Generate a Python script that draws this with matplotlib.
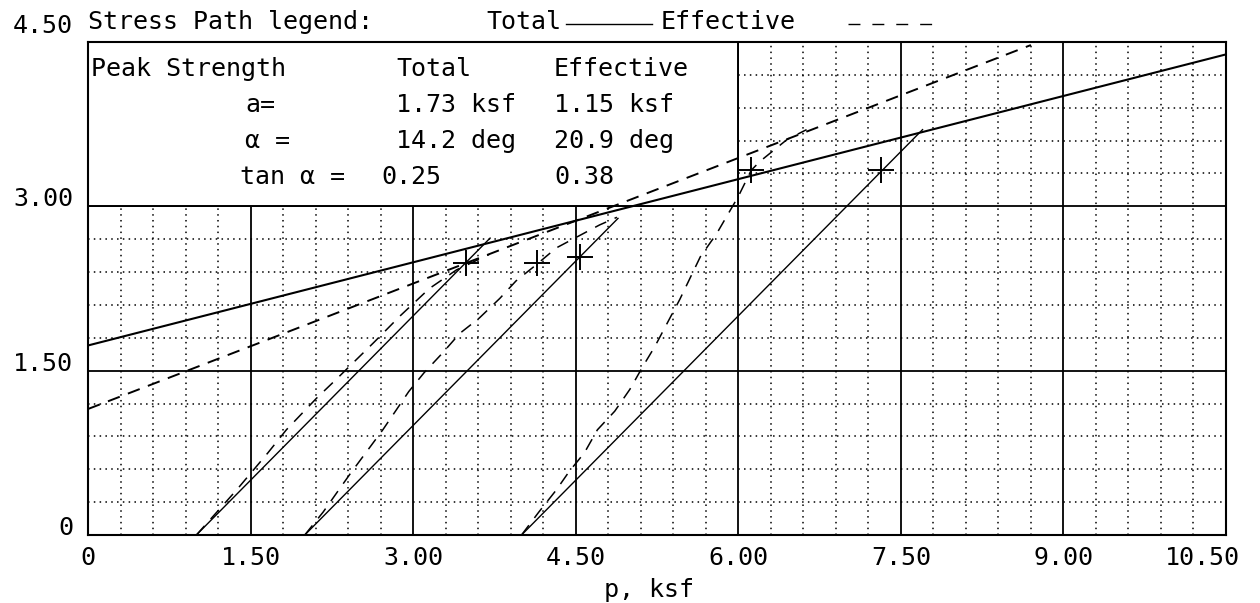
import numpy as np
import matplotlib
matplotlib.use("Agg")
import matplotlib.pyplot as plt
from matplotlib.patches import Rectangle
from matplotlib.lines import Line2D

# ── Failure envelopes (peak strength) ─────────────────────────────────
a_total, alpha_total, tan_total = 1.73, 14.2, 0.25
a_eff, alpha_eff, tan_eff = 1.15, 20.9, 0.38

env_total_p = np.array([0.0, 10.5])
env_eff_p = np.array([0.0, 8.7])

# ── Stress paths, p vs q (ksf) ────────────────────────────────────────
# test 1, p0 = 1.0
t1_total_p = [1.0, 3.71]
t1_total_q = [0.0, 2.71]
t1_eff_p = [1.0, 1.37, 1.66, 1.83, 2.11, 2.30, 2.64, 2.88, 3.15, 3.40, 3.70]
t1_eff_q = [0.0, 0.41, 0.75, 0.96, 1.25, 1.43, 1.76, 2.00, 2.25, 2.42, 2.56]

# test 2, p0 = 2.0
t2_total_p = [2.0, 4.89]
t2_total_q = [0.0, 2.89]
t2_eff_p = [2.0, 2.17, 2.42, 2.72, 2.96, 3.10, 3.27, 3.43, 3.61, 3.80,
            3.95, 4.14, 4.32, 4.72, 4.88]
t2_eff_q = [0.0, 0.21, 0.56, 0.96, 1.31, 1.48, 1.66, 1.84, 1.98, 2.16,
            2.32, 2.47, 2.62, 2.83, 2.90]

# test 3, p0 = 4.0
t3_total_p = [4.0, 7.70]
t3_total_q = [0.0, 3.70]
t3_eff_p = [4.0, 4.16, 4.32, 4.44, 4.58, 4.70, 4.86, 5.00, 5.12, 5.23,
            5.46, 5.65, 5.80, 6.00, 6.12, 6.20, 6.45, 6.63]
t3_eff_q = [0.0, 0.21, 0.41, 0.58, 0.75, 0.96, 1.13, 1.33, 1.54, 1.72,
            2.15, 2.54, 2.75, 3.09, 3.33, 3.41, 3.61, 3.70]

# peak points
peak_p = [3.49, 4.14, 4.54, 6.12, 7.32]
peak_q = [2.48, 2.48, 2.54, 3.33, 3.33]

x_ticks = [0, 1.5, 3.0, 4.5, 6.0, 7.5, 9.0, 10.5]
x_labels = ["0", "1.50", "3.00", "4.50", "6.00", "7.50", "9.00", "10.50"]
y_ticks = [0, 1.5, 3.0, 4.5]
y_labels = ["0", "1.50", "3.00", "4.50"]

# ── Figure ────────────────────────────────────────────────────────────
W, H = 1260, 603
PX = 72 / 100  # points per pixel at dpi=100
PEN = dict(family="DejaVu Sans Mono", fontsize=18, color="black")

fig = plt.figure(figsize=(W / 100, H / 100), dpi=100)
ax = fig.add_axes([88 / W, 1 - 535 / H, (1226 - 88) / W, (535 - 42) / H])
ax.set_xlim(0, 10.5)
ax.set_ylim(0, 4.5)

ax.set_xticks(x_ticks)
ax.set_yticks(y_ticks)
ax.set_xticks(np.arange(0, 10.51, 0.3), minor=True)
ax.set_yticks(np.arange(0, 4.51, 0.3), minor=True)
ax.grid(which="major", color="black", lw=1.3)
ax.grid(which="minor", color="black", lw=1.1, ls=(0, (1, 2.8)))
ax.set_axisbelow(True)
ax.tick_params(which="both", length=0, labelbottom=False, labelleft=False)
for sp in ax.spines.values():
    sp.set_linewidth(1.5)

# white table area in the upper left
ax.add_patch(Rectangle((0, 3.0), 6.0, 1.5, facecolor="white",
                       edgecolor="black", lw=1.4, zorder=1))

# envelopes
ax.plot(env_total_p, a_total + env_total_p * np.tan(np.radians(alpha_total)),
        color="black", lw=1.5, zorder=3)
ax.plot(env_eff_p, a_eff + env_eff_p * np.tan(np.radians(alpha_eff)),
        color="black", lw=1.4, ls=(0, (6.5, 4.5)), zorder=3)

# stress paths
for p, q in [(t1_total_p, t1_total_q), (t2_total_p, t2_total_q),
             (t3_total_p, t3_total_q)]:
    ax.plot(p, q, color="black", lw=1.0, zorder=3)
for p, q in [(t1_eff_p, t1_eff_q), (t2_eff_p, t2_eff_q),
             (t3_eff_p, t3_eff_q)]:
    ax.plot(p, q, color="black", lw=1.1, ls=(0, (8, 6)), zorder=3)

ax.plot(peak_p, peak_q, ls="none", marker="+", ms=19, mew=1.4,
        color="black", zorder=4)

# tick labels
for v, s in zip(y_ticks, y_labels):
    dy = 9 if v == 4.5 else 0
    ax.annotate(s, xy=(0, v), xycoords=("axes fraction", "data"),
                xytext=(-15 * PX, dy * PX), textcoords="offset points",
                ha="right", va="baseline", **PEN)
for v, s in zip(x_ticks, x_labels):
    dx = -24 if s == "10.50" else 0
    ax.annotate(s, xy=(v, 0), xycoords=("data", "axes fraction"),
                xytext=(dx * PX, -30 * PX), textcoords="offset points",
                ha="center", va="baseline", **PEN)


def ftext(x, y, s):
    fig.text(x / W, 1 - y / H, s, ha="left", va="baseline", **PEN)


ftext(604, 597, "p, ksf")

# legend line across the top
ftext(88, 29, "Stress Path legend:")
ftext(486, 29, "Total")
fig.add_artist(Line2D([566 / W, 652 / W], [1 - 24 / H, 1 - 24 / H],
                      color="black", lw=1.0))
ftext(661, 29, "Effective")
fig.add_artist(Line2D([848 / W, 932 / W], [1 - 24 / H, 1 - 24 / H],
                      color="black", lw=1.0, ls=(0, (8.6, 8.6))))

# peak strength table
rows = [76, 112, 148, 184]
ftext(91, rows[0], "Peak Strength")
ftext(396, rows[0], "Total")
ftext(554, rows[0], "Effective")
ftext(245, rows[1], "a=")
ftext(396, rows[1], "1.73 ksf")
ftext(554, rows[1], "1.15 ksf")
ftext(245, rows[2], "α =")
ftext(396, rows[2], "14.2 deg")
ftext(554, rows[2], "20.9 deg")
ftext(240, rows[3], "tan α =")
ftext(381, rows[3], "0.25")
ftext(554, rows[3], "0.38")

fig.savefig("out.png", dpi=100)
